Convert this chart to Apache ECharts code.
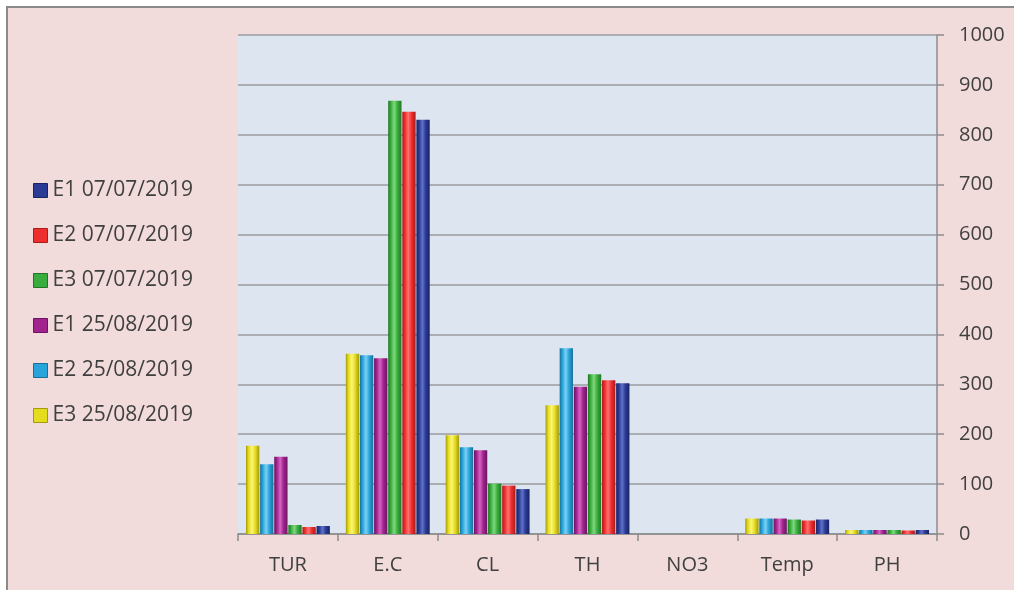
<!DOCTYPE html>
<html>
<head>
<meta charset="utf-8">
<script src="https://cdn.jsdelivr.net/npm/echarts@6/dist/echarts.min.js"></script>
<style>
  html, body { margin: 0; padding: 0; background: #ffffff; }
  #chart { width: 1014px; height: 590px; }
</style>
</head>
<body>
<div id="chart"></div>
<script>
// Water quality parameters per sampling point and date
const categories = ['TUR', 'E.C', 'CL', 'TH', 'NO3', 'Temp', 'PH'];

const e3_2508 = [177, 361, 198, 258, 0, 31, 8];
const e2_2508 = [140, 358, 174, 372, 0, 31, 8];
const e1_2508 = [155, 352, 168, 295, 0, 31, 8];
const e3_0707 = [18, 868, 101, 320, 0, 29, 8];
const e2_0707 = [14, 846, 97, 308, 0, 27, 7];
const e1_0707 = [16, 830, 90, 302, 0, 29, 8];

const yTicks = { min: 0, max: 1000, step: 100 };

const seriesDefs = [
  { name: 'E3 25/08/2019', data: e3_2508, base: '#e6dc1e', light: '#fbf57a', dark: '#a39a10' },
  { name: 'E2 25/08/2019', data: e2_2508, base: '#27a4dc', light: '#7dd0f2', dark: '#1a6f96' },
  { name: 'E1 25/08/2019', data: e1_2508, base: '#a1238e', light: '#d564c2', dark: '#691560' },
  { name: 'E3 07/07/2019', data: e3_0707, base: '#38ac3c', light: '#7fd87e', dark: '#237525' },
  { name: 'E2 07/07/2019', data: e2_0707, base: '#ee2d2d', light: '#ff7070', dark: '#a81c1c' },
  { name: 'E1 07/07/2019', data: e1_0707, base: '#2b3a94', light: '#5f72c8', dark: '#1a2462' }
];

const legendOrder = ['E1 07/07/2019', 'E2 07/07/2019', 'E3 07/07/2019',
                     'E1 25/08/2019', 'E2 25/08/2019', 'E3 25/08/2019'];

function barFill(d) {
  return new echarts.graphic.LinearGradient(0, 0, 1, 0, [
    { offset: 0, color: d.dark },
    { offset: 0.2, color: d.base },
    { offset: 0.45, color: d.light },
    { offset: 0.7, color: d.base },
    { offset: 1, color: d.dark }
  ]);
}

const chart = echarts.init(document.getElementById('chart'), null, { renderer: 'canvas' });

const font = '"Open Sans", "Liberation Sans", sans-serif';

chart.setOption({
  backgroundColor: '#ffffff',
  animation: false,
  graphic: [
    { type: 'rect', shape: { x: 7, y: 7, width: 1010, height: 590 },
      style: { fill: '#f2dcdb', stroke: '#8a8a8a', lineWidth: 2 }, z: -10 }
  ],
  legend: {
    orient: 'vertical',
    left: 33,
    top: 180,
    padding: 0,
    icon: 'rect',
    itemWidth: 14,
    itemHeight: 14,
    itemGap: 24,
    data: legendOrder.map(n => {
      const d = seriesDefs.find(s => s.name === n);
      return { name: n, itemStyle: { color: d.base, borderColor: d.dark, borderWidth: 1 } };
    }),
    textStyle: { fontFamily: font, fontSize: 21, color: '#404040' }
  },
  grid: {
    left: 238, right: 77, top: 35, bottom: 56,
    show: true, backgroundColor: '#dde5f0', borderWidth: 0
  },
  xAxis: {
    type: 'category',
    data: categories,
    axisLine: { show: true, lineStyle: { color: '#8c8c8c', width: 1.5 } },
    axisTick: { show: true, length: 7, alignWithLabel: false, lineStyle: { color: '#8c8c8c', width: 1.5 } },
    axisLabel: { fontFamily: font, fontSize: 20, color: '#404040', margin: 21 }
  },
  yAxis: {
    type: 'value',
    position: 'right',
    min: yTicks.min, max: yTicks.max, interval: yTicks.step,
    axisLine: { show: true, lineStyle: { color: '#8c8c8c', width: 1.5 } },
    axisTick: { show: true, length: 7, lineStyle: { color: '#8c8c8c', width: 1.5 } },
    axisLabel: { fontFamily: font, fontSize: 20, color: '#404040', margin: 22, align: 'left',
                 formatter: v => String(v) },
    splitLine: { show: true, lineStyle: { color: '#9a9ca0', width: 1.5 } }
  },
  series: seriesDefs.map(d => ({
    name: d.name,
    type: 'bar',
    data: d.data,
    color: d.base,
    barCategoryGap: '16%',
    barGap: '6%',
    itemStyle: { color: barFill(d), borderWidth: 0 },
    emphasis: { disabled: true }
  }))
});
</script>
</body>
</html>
